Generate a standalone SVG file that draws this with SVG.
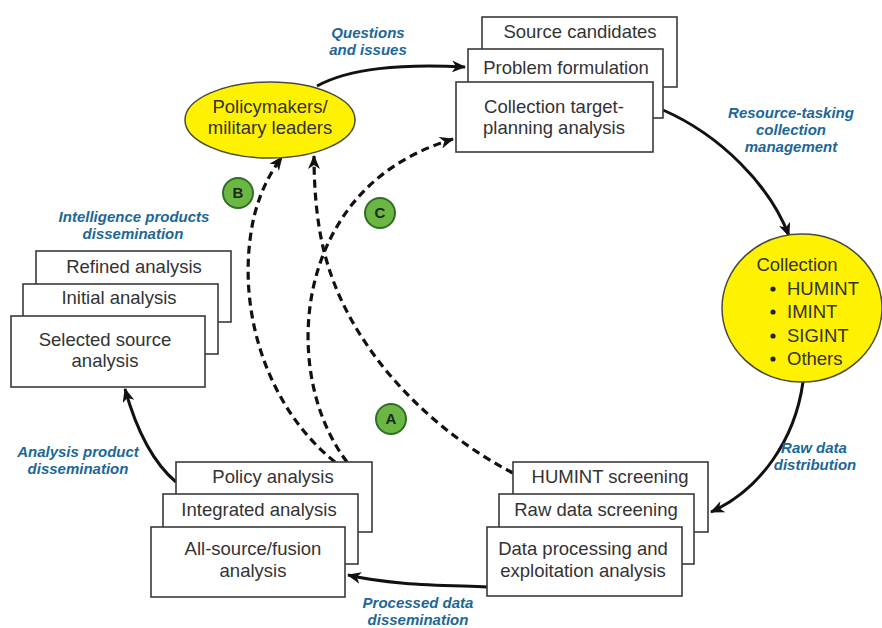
<svg xmlns="http://www.w3.org/2000/svg" width="882" height="628" viewBox="0 0 882 628">
<style>
.box{fill:#fff;stroke:#3a3a3a;stroke-width:1.6}
.t{font-family:"Liberation Sans",Arial,sans-serif;font-size:18.5px;fill:#333;text-anchor:middle}
.lbl{font-family:"Liberation Sans",Arial,sans-serif;font-size:15px;font-weight:bold;font-style:italic;fill:#1d6796;text-anchor:middle}
.ell{fill:#fff200;stroke:#4a4a3a;stroke-width:1.5}
.c{fill:none;stroke:#111;stroke-width:3}
.d{fill:none;stroke:#111;stroke-width:3.2;stroke-dasharray:8 5}
.badge{fill:#6cb744;stroke:#2f6e27;stroke-width:2}
.bt{font-family:"Liberation Sans",Arial,sans-serif;font-size:15px;font-weight:bold;fill:#1b2a14;text-anchor:middle}
</style>
<defs>
<marker id="ah" viewBox="0 0 14 12" refX="13" refY="6" markerWidth="14" markerHeight="12" markerUnits="userSpaceOnUse" orient="auto">
<path d="M0,0 L14,6 L0,12 L4,6 z" fill="#111"/>
</marker>
</defs>
<rect width="882" height="628" fill="#fff"/>
<g id="connectors">
<path class="c" d="M317,86 C350,68 400,64 465,67" marker-end="url(#ah)"/>
<path class="c" d="M663,110 C720,135 770,185 789,236" marker-end="url(#ah)"/>
<path class="c" d="M803,382 C795,440 760,490 711,512" marker-end="url(#ah)"/>
<path class="c" d="M487,587 C440,585 390,585 348,575" marker-end="url(#ah)"/>
<path class="c" d="M176,482 C150,460 135,425 125,389" marker-end="url(#ah)"/>
<path class="d" d="M513,473 C430,430 350,350 325,255 C317,225 314,190 314,156" marker-end="url(#ah)"/>
<path class="d" d="M335,462 C270,410 240,320 250,240 C254,205 266,178 282,157" marker-end="url(#ah)"/>
<path class="d" d="M347,462 C300,400 295,300 335,230 C360,185 400,155 453,139" marker-end="url(#ah)"/>
</g>
<g id="policymakers">
<ellipse class="ell" cx="270" cy="120" rx="85" ry="38"/>
<text class="t" x="270" y="113">Policymakers/</text>
<text class="t" x="270" y="134">military leaders</text>
</g>
<g id="planning">
<rect class="box" x="482" y="17" width="195" height="70"/>
<text class="t" x="580" y="38">Source candidates</text>
<rect class="box" x="468" y="49" width="195" height="69"/>
<text class="t" x="566" y="74">Problem formulation</text>
<rect class="box" x="456" y="82" width="197" height="70"/>
<text class="t" x="554" y="113">Collection target-</text>
<text class="t" x="554" y="134">planning analysis</text>
</g>
<g id="collection">
<ellipse class="ell" cx="802" cy="308" rx="80" ry="74"/>
<text class="t" x="797" y="271">Collection</text>
<text class="t" x="787" y="295" style="text-anchor:start">HUMINT</text>
<text class="t" x="787" y="318" style="text-anchor:start">IMINT</text>
<text class="t" x="787" y="342" style="text-anchor:start">SIGINT</text>
<text class="t" x="787" y="365" style="text-anchor:start">Others</text>
<circle cx="773" cy="289" r="2.6" fill="#222"/>
<circle cx="773" cy="312" r="2.6" fill="#222"/>
<circle cx="773" cy="336" r="2.6" fill="#222"/>
<circle cx="773" cy="359" r="2.6" fill="#222"/>
</g>
<g id="processing">
<rect class="box" x="513" y="462" width="195" height="70"/>
<text class="t" x="610" y="483">HUMINT screening</text>
<rect class="box" x="499" y="494" width="195" height="70"/>
<text class="t" x="596" y="516">Raw data screening</text>
<rect class="box" x="487" y="527" width="195" height="69"/>
<text class="t" x="583" y="555">Data processing and</text>
<text class="t" x="583" y="577">exploitation analysis</text>
</g>
<g id="analysis">
<rect class="box" x="176" y="462" width="196" height="70"/>
<text class="t" x="273" y="483">Policy analysis</text>
<rect class="box" x="163" y="494" width="195" height="70"/>
<text class="t" x="259" y="516">Integrated analysis</text>
<rect class="box" x="151" y="527" width="194" height="70"/>
<text class="t" x="253" y="555">All-source/fusion</text>
<text class="t" x="253" y="577">analysis</text>
</g>
<g id="products">
<rect class="box" x="36" y="251" width="195" height="71"/>
<text class="t" x="134" y="273">Refined analysis</text>
<rect class="box" x="23" y="284" width="195" height="70"/>
<text class="t" x="119" y="304">Initial analysis</text>
<rect class="box" x="11" y="316" width="194" height="71"/>
<text class="t" x="105" y="346">Selected source</text>
<text class="t" x="105" y="367">analysis</text>
</g>
<g id="labels">
<text class="lbl" x="368" y="38">Questions</text>
<text class="lbl" x="368" y="55">and issues</text>
<text class="lbl" x="791" y="118">Resource-tasking</text>
<text class="lbl" x="791" y="135">collection</text>
<text class="lbl" x="791" y="152">management</text>
<text class="lbl" x="814" y="453">Raw data</text>
<text class="lbl" x="815" y="470">distribution</text>
<text class="lbl" x="418" y="608">Processed data</text>
<text class="lbl" x="418" y="625">dissemination</text>
<text class="lbl" x="78" y="457">Analysis product</text>
<text class="lbl" x="78" y="474">dissemination</text>
<text class="lbl" x="134" y="222">Intelligence products</text>
<text class="lbl" x="133" y="239">dissemination</text>
</g>
<g id="badge-a"><circle class="badge" cx="391" cy="419" r="15"/><text class="bt" x="391" y="424">A</text></g>
<g id="badge-b"><circle class="badge" cx="238" cy="193" r="15"/><text class="bt" x="238" y="198">B</text></g>
<g id="badge-c"><circle class="badge" cx="380" cy="213" r="15"/><text class="bt" x="380" y="218">C</text></g>
</svg>
